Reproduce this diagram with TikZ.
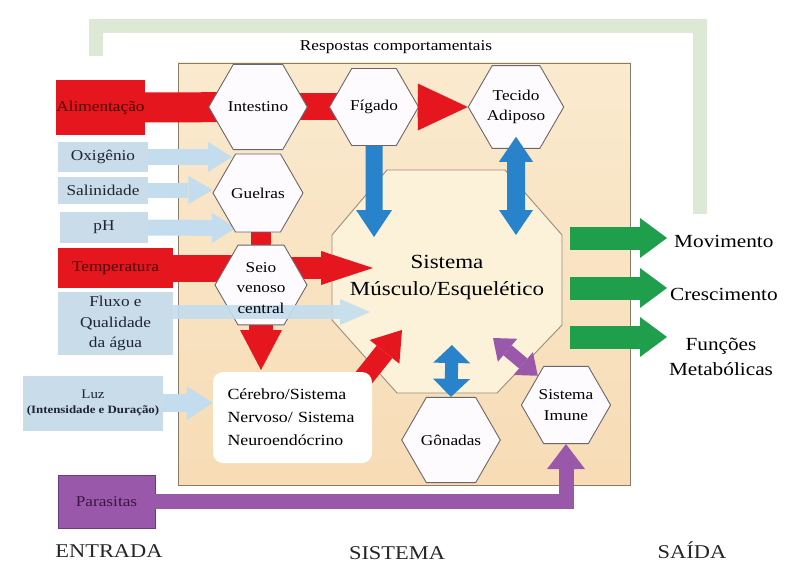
\documentclass[tikz,border=0pt]{standalone}
\usepackage{fontspec}
\setmainfont{Liberation Serif}[FakeStretch=1.15]
\usetikzlibrary{shapes.geometric,arrows.meta,calc}
\pgfdeclarelayer{back}
\pgfdeclarelayer{bg}
\pgfsetlayers{back,bg,main}
\newcommand\setfs[2]{\fontsize{#1}{#2}\selectfont}
\definecolor{sysTop}{HTML}{FAEACE}
\definecolor{sysBot}{HTML}{F7DCB6}
\definecolor{sysline}{HTML}{8A7B66}
\definecolor{octfill}{HTML}{FBF2D9}
\definecolor{octline}{HTML}{9A8D7C}
\definecolor{hexfill}{HTML}{FDFBFE}
\definecolor{hexline}{HTML}{6B666B}
\definecolor{redA}{HTML}{E5161D}
\definecolor{blueA}{HTML}{2983CB}
\definecolor{lblue}{HTML}{C9DCEA}
\definecolor{lbluea}{HTML}{C3DDEF}
\definecolor{purpA}{HTML}{9A58AA}
\definecolor{purpLine}{HTML}{6D3B7D}
\definecolor{greenA}{HTML}{1F9F4C}
\definecolor{fbgreen}{HTML}{DDE9D5}
\definecolor{txtdark}{HTML}{1E2430}
\definecolor{redtxt}{HTML}{4A0505}
\definecolor{purptxt}{HTML}{3A1640}
\tikzset{
  hexa/.style={regular polygon, regular polygon sides=6, minimum size=#1,
    draw=hexline, line width=0.9pt, fill=hexfill, inner sep=0pt,
    align=center, font=\setfs{15}{20.5}, text=black},
  inbox/.style={fill=lblue, inner sep=0pt, align=center,
    font=\setfs{15}{20.5}, text=txtdark},
  blk/.style n args={3}{line width=#1,
    -{Triangle[length=#2, width=#3, line width=0pt]}},
  dblk/.style n args={3}{line width=#1,
    {Triangle[length=#2, width=#3, line width=0pt]}-{Triangle[length=#2, width=#3, line width=0pt]}},
  outlab/.style={inner sep=0pt, align=center, font=\setfs{18.5}{25}, text=black},
  baselab/.style={inner sep=0pt, font=\setfs{19.5}{22}, text=black!85},
}
\begin{document}
\begin{tikzpicture}[x=1pt,y=-1pt]
\useasboundingbox (0,0) rectangle (787,567);

% ---------- background: feedback, system box, octagon
\coordinate (fbA) at (700,214);
\coordinate (fbB) at (700,26);
\coordinate (fbC) at (96,26);
\coordinate (fbD) at (96,56);
\begin{pgfonlayer}{back}
  \draw[fbgreen, line width=14pt, line join=miter] (fbA) -- (fbB) -- (fbC) -- (fbD);
  \node[draw=sysline, line width=0.8pt, top color=sysTop, bottom color=sysBot,
        minimum width=452pt, minimum height=422pt, inner sep=0pt] (sys) at (404,274) {};
  \draw[octline, fill=octfill, line width=0.9pt]
    (387,170) -- (505,170) -- (562,235) -- (562,325) -- (497,393) -- (397,393)
    -- (332,320) -- (332,235) -- cycle;
\end{pgfonlayer}

\node[inner sep=0pt, font=\setfs{15}{18}] (resp) at (396,47) {Respostas comportamentais};
\node[inner sep=0pt, align=center, font=\setfs{20}{27}] (msk) at (447,278)
  {Sistema\\Músculo/Esquelético};

% ---------- hexagons
\node[hexa=89pt] (intest) at (258,107) {Intestino};
\node[hexa=89pt] (figado) at (374,107) {Fígado};
\node[hexa=89pt] (tecido) at (516,107) {Tecido\\Adiposo};
\node[hexa=90pt] (guelras) at (258,193) {Guelras};
\node[hexa=92pt] (seio) at (261,285) {};
\node[hexa=88pt] (gonadas) at (451,440) {Gônadas};
\node[hexa=88pt] (imune) at (566,405) {Sistema\\Imune};

\node[fill=white, rounded corners=10pt, minimum width=159pt, minimum height=91pt,
      text width=130pt, align=left, inner xsep=14pt, inner ysep=0pt,
      font=\setfs{15.5}{23}] (cereb) at (292.5,417.5)
  {Cérebro/Sistema\\Nervoso/ Sistema\\Neuroendócrino};

% ---------- input boxes
\node[inbox, fill=redA, text=redtxt, minimum width=85pt, minimum height=55pt] (alim) at (100.5,107.5) {Alimentação};
\node[inbox, minimum width=90pt, minimum height=30pt] (oxi) at (103,157) {Oxigênio};
\node[inbox, minimum width=90pt, minimum height=27pt] (sal) at (103,190) {Salinidade};
\node[inbox, minimum width=88pt, minimum height=31pt] (ph) at (104,227.5) {pH};
\node[inbox, fill=redA, text=redtxt, minimum width=115pt, minimum height=40pt] (temp) at (115.5,268) {Temperatura};
\node[inbox, minimum width=115pt, minimum height=63pt] (fluxo) at (115.5,323.5) {Fluxo e\\Qualidade\\da água};
\node[inbox, minimum width=140pt, minimum height=55pt, font=\setfs{13}{16}] (luz) at (93,403)
  {Luz\\[-1pt]{\setfs{11.2}{13}\bfseries (Intensidade e Duração)}};
\node[inbox, fill=purpA, draw=purpLine, line width=0.8pt, text=purptxt,
      minimum width=97pt, minimum height=53pt, font=\setfs{15}{18}] (paras) at (106.5,501.5) {Parasitas};

% ---------- outputs
\node[outlab, anchor=west] (mov) at (674,241) {Movimento};
\node[outlab, anchor=west] (cres) at (670,294) {Crescimento};
\node[outlab] (func) at (721,357) {Funções\\Metabólicas};

\node[baselab] (entrada) at (109,551) {ENTRADA};
\node[baselab] (sistema) at (397,553) {SISTEMA};
\node[baselab] (saida) at (692,550) {SAÍDA};

% ---------- coordinates for free ends
\coordinate (oxiE) at (232,157);
\coordinate (phE) at (236,228);
\coordinate (fluxE) at (370,312);
\coordinate (msL) at (373,268);
\coordinate (cerT) at (264,370);
\coordinate (msBL) at (402,330);
\coordinate (figB) at (374,237);
\coordinate (tecB) at (516,235);
\coordinate (gonT) at (452,345);
\coordinate (imT) at (493,338);
\coordinate (g1) at (570,238);
\coordinate (g2) at (570,288);
\coordinate (g3) at (570,337);

% ---------- arrows behind the hexagons
\begin{pgfonlayer}{bg}
  \draw[redA, line width=30pt] (alim.east) -- (intest.center);
  \draw[redA, line width=27pt] (intest.center) -- (figado.center);
  \draw[redA, line width=27pt] (temp.east) -- (temp.east -| seio.center);
  \draw[redA, line width=20pt] (seio.center |- guelras.center) -- (seio.center);
  \draw[redA, blk={22pt}{52pt}{34pt}] (seio.center |- msL) -- (msL);
  \draw[redA, blk={24pt}{40pt}{42pt}] (seio.center) -- (seio.center |- cerT);
  \draw[redA, blk={20pt}{28pt}{38pt}] ($(cereb.north east)+(-10,8)$) -- (msBL);
  \draw[lbluea, blk={16pt}{24pt}{30pt}] (oxi.east) -- (oxiE);
  \draw[lbluea, blk={15pt}{24pt}{28pt}] (sal.east) -- (sal.east -| guelras.west);
  \draw[lbluea, blk={16pt}{24pt}{30pt}] (ph.east) -- (phE);
  \draw[lbluea, blk={18pt}{26pt}{34pt}] (luz.east) -- (luz.east -| cereb.west);
\end{pgfonlayer}

% ---------- arrows on top
\draw[lbluea, opacity=0.9, blk={14pt}{30pt}{26pt}] (fluxo.east |- fluxE) -- (fluxE);
\node[inner sep=0pt, align=center, font=\setfs{15}{20.5}] (seioT) at ([yshift=-3pt]seio.center)
  {Seio\\venoso\\central};
\draw[redA, blk={21pt}{50pt}{47pt}] (figado.east) -- (tecido.west);
\draw[blueA, blk={17pt}{27pt}{36pt}] (figado.south) -- (figB);
\draw[blueA, dblk={18pt}{25pt}{34pt}] ($(tecido.south)+(0,-12)$) -- (tecB);
\draw[blueA, dblk={13pt}{18pt}{37pt}] (gonadas.north) -- (gonT);
\draw[purpA, dblk={13pt}{19pt}{30pt}] (imune.134) -- (imT);
\draw[purpA, line join=miter, blk={15pt}{25pt}{38pt}] (paras.east) -| (imune.south);
\draw[greenA, blk={23pt}{27pt}{40pt}] (g1) -- ($(g1 -| mov.west)+(-7,0)$);
\draw[greenA, blk={23pt}{27pt}{40pt}] (g2) -- ($(g2 -| mov.west)+(-7,0)$);
\draw[greenA, blk={23pt}{27pt}{40pt}] (g3) -- ($(g3 -| mov.west)+(-7,0)$);
\end{tikzpicture}
\end{document}
